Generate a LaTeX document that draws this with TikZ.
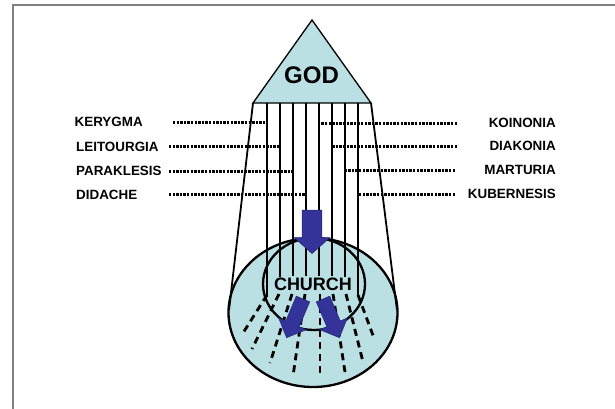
\documentclass[tikz,border=0pt]{standalone}
\usepackage{fontspec}
\setmainfont{Liberation Sans}
\definecolor{fillblue}{RGB}{186,224,228}
\definecolor{arrowblue}{RGB}{51,51,153}
\definecolor{framegray}{RGB}{128,128,128}
\begin{document}
\begin{tikzpicture}[x=1pt,y=-1pt,
  lbl/.style={font=\fontsize{13.4}{15}\selectfont\bfseries, inner sep=0pt},
  bigtxt/.style={font=\fontsize{24}{28}\selectfont\bfseries, inner sep=0pt},
  midtxt/.style={font=\fontsize{18}{22}\selectfont\bfseries, inner sep=0pt},
  dotline/.style={line width=3pt, dash pattern=on 2.4pt off 1.2pt},
  dashline/.style={line width=2.8pt, dash pattern=on 7pt off 5pt},
  vline/.style={line width=1.4pt},
  coneline/.style={line width=1.8pt},
  blueshape/.style={fill=arrowblue, draw=arrowblue!75!black, line width=0.5pt}]
\useasboundingbox (0,0) rectangle (615,409);
% frame
\draw[framegray, line width=1.6pt] (12.7,409) -- (12.7,5) -- (615,5);

% big ellipse (church body)
\draw[fill=fillblue, line width=2.3pt] (313,312.5) ellipse [x radius=84.5, y radius=74.5];

% triangle corners and cone ends
\coordinate (apex) at (312,20);
\coordinate (bl) at (253,103);
\coordinate (br) at (371,103);
\coordinate (cl) at (229,310);
\coordinate (cr) at (397,310);
\draw[coneline] (bl) -- (cl);
\draw[coneline] (br) -- (cr);

% vertical lines
\foreach \i/\x/\e in {1/267/297, 2/280/277, 3/293/276, 4/306/276, 5/319/276, 6/332/276, 7/345/277, 8/358/297}{
  \coordinate (v\i) at (\x,103);
  \coordinate (w\i) at (\x,\e);
  \draw[vline] (v\i) -- (w\i);
}

% triangle GOD
\draw[fill=fillblue, line width=1.3pt] (apex) -- (br) -- (bl) -- cycle;
\node[bigtxt] (god) at (311.5,75) {GOD};

% inner circle
\draw[line width=2.3pt] (314,284) ellipse [x radius=51, y radius=46];

% left labels
\node[lbl, anchor=west] (ker) at (74.5,122) {KERYGMA};
\node[lbl, anchor=west] (lei) at (76,146.5) {LEITOURGIA};
\node[lbl, anchor=west] (par) at (76,171) {PARAKLESIS};
\node[lbl, anchor=west] (did) at (76,194.5) {DIDACHE};
% right labels
\node[lbl, anchor=east] (koi) at (556,122.5) {KOINONIA};
\node[lbl, anchor=east] (dia) at (556,146) {DIAKONIA};
\node[lbl, anchor=east] (mar) at (556,170) {MARTURIA};
\node[lbl, anchor=east] (kub) at (556,193.5) {KUBERNESIS};

% dotted connectors
\coordinate (d1) at (173,122);
\coordinate (d2) at (169,146.5);
\coordinate (d3) at (169,171);
\coordinate (d4) at (169,194.5);
\coordinate (e1) at (457,123);
\coordinate (e2) at (457,146);
\coordinate (e3) at (455,170);
\coordinate (e4) at (455,194);
\draw[dotline] (d1) -- (v1 |- d1);
\draw[dotline] (d2) -- (v2 |- d2);
\draw[dotline] (d3) -- (v3 |- d3);
\draw[dotline] (d4) -- (v4 |- d4);
\draw[dotline] (e1) -- (v5 |- e1);
\draw[dotline] (e2) -- (v6 |- e2);
\draw[dotline] (e3) -- (v7 |- e3);
\draw[dotline] (e4) -- (v8 |- e4);

% dashed rays
\foreach \a/\b/\c/\d in {267/295/243/333, 279/294/252/349, 292/294/270/363, 305/294/293/376,
                         320/294/320/376, 333/294/345/372, 346/294/363/362, 358/295/374/338}{
  \draw[dashline] (\a,\b) -- (\c,\d);
}

% CHURCH
\node[midtxt] (church) at (313,284) {CHURCH};

% arrows
\begin{scope}[shift={(312,210)}]
  \draw[blueshape] (-9.8,0) -- (9.8,0) -- (9.8,27.5) -- (18,27.5) -- (0,43.5) -- (-18,27.5) -- (-9.8,27.5) -- cycle;
\end{scope}
\begin{scope}[shift={(303,299)}, rotate=-23]
  \draw[blueshape] (-7.3,0) -- (7.3,0) -- (7.3,27) -- (15,27) -- (0,42) -- (-15,27) -- (-7.3,27) -- cycle;
\end{scope}
\begin{scope}[shift={(323,299)}, rotate=23]
  \draw[blueshape] (-7.3,0) -- (7.3,0) -- (7.3,27) -- (15,27) -- (0,42) -- (-15,27) -- (-7.3,27) -- cycle;
\end{scope}
\end{tikzpicture}
\end{document}
